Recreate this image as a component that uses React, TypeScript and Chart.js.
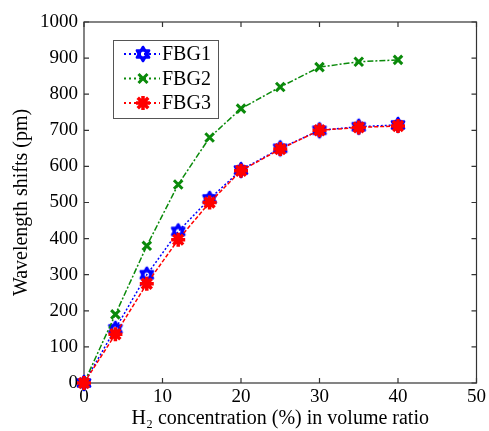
import React, { useEffect, useRef } from "react";
import { Chart, registerables } from "chart.js";

Chart.register(...registerables);

const xValues = [0, 4, 8, 12, 16, 20, 25, 30, 35, 40];
const fbg1 = [0, 150, 300, 420, 510, 590, 650, 700, 710, 715];
const fbg2 = [0, 190, 380, 550, 680, 760, 820, 875, 890, 895];
const fbg3 = [0, 135, 275, 397, 500, 588, 648, 700, 708, 712];
const seriesNames = ["FBG1", "FBG2", "FBG3"];
const xTitle = "H\u2082 concentration (%) in volume ratio";
const yTitle = "Wavelength shifts (pm)";

const BLUE = "#0000ff";
const GREEN = "#0a8a0a";
const RED = "#ff0000";
const FONT = "'Liberation Serif', 'Times New Roman', serif";

function makeHexagram(color: string): HTMLCanvasElement {
  const c = document.createElement("canvas");
  const s = 20;
  c.width = s;
  c.height = s;
  const ctx = c.getContext("2d")!;
  const cx = s / 2, cy = s / 2, r = 7;
  ctx.strokeStyle = color;
  ctx.lineWidth = 2.6;
  ctx.lineJoin = "round";
  for (let t = 0; t < 2; t++) {
    ctx.beginPath();
    for (let i = 0; i < 3; i++) {
      const a = -Math.PI / 2 + t * Math.PI + (i * 2 * Math.PI) / 3;
      const px = cx + r * Math.cos(a);
      const py = cy + r * Math.sin(a);
      if (i === 0) ctx.moveTo(px, py);
      else ctx.lineTo(px, py);
    }
    ctx.closePath();
    ctx.stroke();
  }
  return c;
}

export default function App() {
  const ref = useRef<HTMLCanvasElement | null>(null);

  useEffect(() => {
    document.body.style.margin = "0";
    const canvas = ref.current!;
    const hex = makeHexagram(BLUE);

    const styles = [
      { color: BLUE, dash: [2, 2], point: hex as any, radius: 7, bw: 1 },
      { color: GREEN, dash: [6, 2, 2, 2], point: "crossRot", radius: 6, bw: 3 },
      { color: RED, dash: [4, 2], point: "star", radius: 7, bw: 3.5 },
    ];

    const drawMarkers = (ctx: CanvasRenderingContext2D) => {
      styles.forEach((s, i) => {
        const y = 40 + 14 + i * 24.5;
        const x = 143;
        ctx.save();
        if (s.point === hex) {
          ctx.drawImage(hex, x - 10, y - 10);
        } else {
          ctx.strokeStyle = s.color;
          ctx.lineWidth = s.bw;
          const r = s.radius * 0.75;
          ctx.beginPath();
          ctx.moveTo(x - r, y - r);
          ctx.lineTo(x + r, y + r);
          ctx.moveTo(x - r, y + r);
          ctx.lineTo(x + r, y - r);
          if (s.point === "star") {
            ctx.moveTo(x - s.radius, y);
            ctx.lineTo(x + s.radius, y);
            ctx.moveTo(x, y - s.radius);
            ctx.lineTo(x, y + s.radius);
          }
          ctx.stroke();
        }
        ctx.restore();
      });
    };

    const boxPlugin = {
      id: "boxPlugin",
      beforeDatasetsDraw(chart: any) {
        const { ctx, chartArea: a, scales } = chart;
        ctx.save();
        ctx.strokeStyle = "#333";
        ctx.lineWidth = 1.2;
        ctx.strokeRect(a.left, a.top, a.right - a.left, a.bottom - a.top);
        const tl = 5;
        scales.x.ticks.forEach((t: any) => {
          const px = scales.x.getPixelForValue(t.value);
          ctx.beginPath();
          ctx.moveTo(px, a.bottom);
          ctx.lineTo(px, a.bottom - tl);
          ctx.moveTo(px, a.top);
          ctx.lineTo(px, a.top + tl);
          ctx.stroke();
        });
        scales.y.ticks.forEach((t: any) => {
          const py = scales.y.getPixelForValue(t.value);
          ctx.beginPath();
          ctx.moveTo(a.left, py);
          ctx.lineTo(a.left + tl, py);
          ctx.moveTo(a.right, py);
          ctx.lineTo(a.right - tl, py);
          ctx.stroke();
        });
        ctx.restore();
      },
      afterDraw(chart: any) {
        const { ctx } = chart;
        ctx.save();
        const bx = 113, by = 40, bw = 105, bh = 78;
        ctx.fillStyle = "#fff";
        ctx.fillRect(bx, by, bw, bh);
        ctx.strokeStyle = "#555";
        ctx.lineWidth = 1;
        ctx.strokeRect(bx + 0.5, by + 0.5, bw, bh);
        ctx.font = `20px ${FONT}`;
        ctx.textBaseline = "middle";
        styles.forEach((s, i) => {
          const y = by + 14 + i * 24.5;
          ctx.strokeStyle = s.color;
          ctx.lineWidth = 2;
          ctx.setLineDash([2, 3]);
          ctx.beginPath();
          ctx.moveTo(124, y);
          ctx.lineTo(160, y);
          ctx.stroke();
          ctx.setLineDash([]);
          ctx.fillStyle = "#000";
          ctx.fillText(seriesNames[i], 162, y + 1);
        });
        ctx.restore();
        drawMarkers(ctx);
      },
    };

    const datasets = [fbg1, fbg2, fbg3].map((vals, i) => {
      const s = styles[i];
      return {
        label: seriesNames[i],
        data: xValues.map((x, j) => ({ x, y: vals[j] })),
        borderColor: s.color,
        backgroundColor: s.color,
        borderWidth: 1.5,
        borderDash: s.dash,
        pointStyle: s.point,
        pointRadius: s.radius,
        pointBorderWidth: s.bw,
        pointBorderColor: s.color,
        pointBackgroundColor: s.color,
        tension: 0,
        clip: false as any,
        order: 3 - i,
      };
    });

    const chart = new Chart(canvas, {
      type: "line",
      data: { datasets },
      options: {
        animation: false,
        responsive: false,
        devicePixelRatio: 1,
        layout: { padding: { top: 22, right: 7, left: 0, bottom: 0 } },
        plugins: {
          legend: { display: false },
          tooltip: { enabled: false },
        },
        scales: {
          x: {
            type: "linear",
            min: 0,
            max: 50,
            ticks: { stepSize: 10, color: "#000", font: { family: FONT, size: 19 }, padding: 3, maxRotation: 0 },
            grid: { display: false, drawTicks: false },
            border: { display: false },
            title: { display: true, text: xTitle, color: "#000", font: { family: FONT, size: 20 }, padding: { top: 0, bottom: 0 } },
            afterFit(scale: any) {
              scale.height = 48;
            },
          },
          y: {
            type: "linear",
            min: 0,
            max: 1000,
            ticks: {
              stepSize: 100,
              color: "#000",
              font: { family: FONT, size: 19 },
              padding: 6,
              callback: (v: any) => String(v),
            },
            grid: { display: false, drawTicks: false },
            border: { display: false },
            title: { display: true, text: yTitle, color: "#000", font: { family: FONT, size: 20 }, padding: { top: 10, bottom: 0 } },
            afterFit(scale: any) {
              scale.width = 84;
            },
          },
        },
      },
      plugins: [boxPlugin],
    });

    return () => chart.destroy();
  }, []);

  return <canvas ref={ref} width={489} height={431} style={{ display: "block" }} />;
}
